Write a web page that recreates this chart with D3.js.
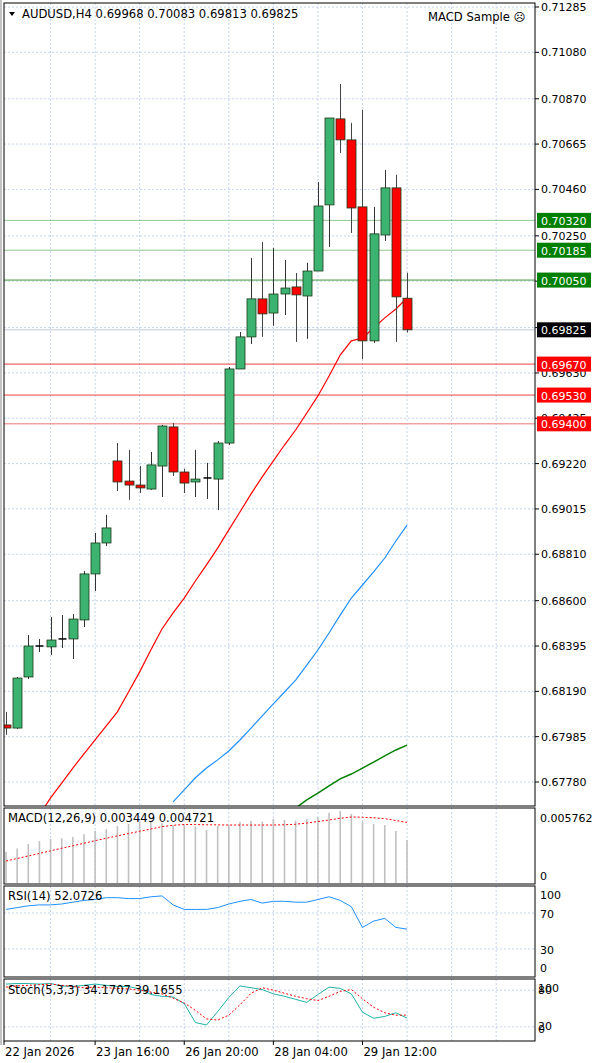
<!DOCTYPE html>
<html><head><meta charset="utf-8">
<script src="https://cdn.jsdelivr.net/npm/d3@7/dist/d3.min.js"></script>
<style>body{margin:0;background:#fff}svg{display:block}text{font-family:"DejaVu Sans",sans-serif;font-size:11px}</style>
</head><body><svg id="c" width="600" height="1063"></svg>
<script>
const opens  =[.68038,.68024,.68255,.68395,.68391,.68427,.68427,.68513,.68721,.68861,.69232,.69141,.69123,.69105,.69209,.69386,.69182,.69137,.69155,.69150,.69313,.69648,.69793,.69965,.69901,.69987,.70019,.69978,.70091,.70390,.70779,.70684,.70381,.69775,.70254,.70467,.69968];
const highs  =[.68097,.68255,.68445,.68427,.68526,.68535,.68540,.68734,.68906,.68988,.69313,.69282,.69209,.69273,.69395,.69404,.69196,.69282,.69223,.69322,.69657,.69815,.70150,.70222,.70195,.70141,.70082,.70128,.70494,.70783,.70937,.70761,.70820,.70381,.70548,.70526,.70083];
const lows   =[.67993,.68020,.68246,.68368,.68354,.68386,.68336,.68481,.68644,.68847,.69096,.69056,.69087,.69101,.69069,.69164,.69087,.69069,.69060,.69010,.69304,.69648,.69761,.69793,.69843,.69892,.69770,.69784,.70091,.70200,.70625,.70263,.69693,.69766,.70227,.69770,.69813];
const closes =[.68024,.68250,.68395,.68395,.68422,.68427,.68517,.68721,.68861,.68929,.69137,.69123,.69110,.69214,.69390,.69182,.69132,.69150,.69155,.69313,.69648,.69793,.69965,.69897,.69987,.70014,.69983,.70091,.70385,.70783,.70684,.70376,.69775,.70259,.70467,.69974,.69825];
const maRed  =[null,null,null,.67631,.67708,.67775,.67843,.67907,.67970,.68034,.68097,.68187,.68278,.68377,.68472,.68545,.68612,.68689,.68762,.68838,.68920,.69001,.69083,.69160,.69232,.69304,.69372,.69449,.69526,.69616,.69711,.69775,.69788,.69833,.69879,.69919,.69969];
const maBlue =[null,null,null,null,null,null,null,null,null,null,null,null,null,null,null,.67690,.67744,.67799,.67843,.67880,.67920,.67970,.68024,.68079,.68133,.68187,.68241,.68309,.68377,.68454,.68535,.68612,.68671,.68730,.68793,.68870,.68942];
const maGreen=[null,null,null,null,null,null,null,null,null,null,null,null,null,null,null,null,null,null,null,null,null,null,null,null,null,null,.67662,.67699,.67730,.67762,.67794,.67816,.67843,.67870,.67898,.67925,.67947];
const macdHist=[.00251,.00277,.00312,.00336,.00352,.00358,.00368,.00390,.00419,.00430,.00456,.00472,.00491,.00491,.00478,.00464,.00464,.00451,.00424,.00456,.00464,.00491,.00496,.00491,.00512,.00504,.00499,.00510,.00526,.00563,.00576,.00552,.00491,.00472,.00464,.00416,.00345];
const macdSig=[.00176,.00196,.00216,.00237,.00257,.00278,.00298,.00318,.00339,.00358,.00377,.00396,.00414,.00432,.00451,.00462,.00468,.00468,.00466,.00465,.00464,.00464,.00464,.00464,.00464,.00466,.00470,.00480,.00492,.00504,.00518,.00528,.00526,.00522,.00515,.00500,.00485];
const rsi=[74,76,78,79,79,80,82,84,85,87,87,86,86,88,89,79,74,74,74,76,80,83,85,81,83,83,82,82,85,88,84,77,54,61,64,54,52.07];
const stochMain=[90,91,91,90,91,87,86,88,90,88,86,86,82,73,70,69,58,27,23,45,68,87,84,81,74,70,65,60,73,85,83,74,44,34,37,43,34.17];
const stochSig=[85,87,88,89,90,88,86,84,85,84,83,82,80,77,74,67,59,47,33,31,39,56,75,84,80,75,70,66,63,70,78,81,66,52,43,39,39.17];
const priceTicks=[0.71285,0.71080,0.70870,0.70665,0.70460,0.70250,0.70045,0.69835,0.69630,0.69425,0.69220,0.69015,0.68810,0.68600,0.68395,0.68190,0.67985,0.67780];
const greenLevels=[0.70320,0.70185,0.70050];
const redLevels=[0.69670,0.69530,0.69400];
const lastPrice=0.69825;
const timeLabels=[[0,"22 Jan 2026"],[8,"23 Jan 16:00"],[16,"26 Jan 20:00"],[24,"28 Jan 04:00"],[32,"29 Jan 12:00"]];

const svg=d3.select("#c");
const L=4,R=535;
const x=d3.scaleLinear().domain([0,48]).range([6,6+48*11.14]);
const y=d3.scaleLinear().domain([0.71285,0.67780]).range([7,782]);
const panels=[[3,806],[808,884],[886,977],[979,1041]];
svg.append("rect").attr("width",600).attr("height",1063).attr("fill","#fff");
svg.append("defs").append("clipPath").attr("id","cm").append("rect").attr("x",L).attr("y",3).attr("width",R-L).attr("height",803);
const idx=d3.range(opens.length);
panels.forEach(([t,b])=>{
  d3.range(4,48,4).forEach(i=>{ if(x(i)<R) svg.append("line").attr("x1",x(i)).attr("x2",x(i)).attr("y1",t).attr("y2",b).attr("stroke","#c4d4ec").attr("stroke-dasharray","2,2");});
});
priceTicks.forEach(p=>{
  svg.append("line").attr("x1",L).attr("x2",R).attr("y1",y(p)).attr("y2",y(p)).attr("stroke","#c4d4ec").attr("stroke-dasharray","2,2");
  svg.append("line").attr("x1",R).attr("x2",R+4).attr("y1",y(p)).attr("y2",y(p)).attr("stroke","#000");
  svg.append("text").attr("x",541).attr("y",y(p)+4).text(p.toFixed(5));
});
const m=svg.append("g").attr("clip-path","url(#cm)");
greenLevels.forEach((p,i)=>m.append("line").attr("x1",L).attr("x2",R).attr("y1",y(p)).attr("y2",y(p)).attr("stroke",i==2?"#3c9a3c":"#8cc88c").attr("stroke-width",1));
redLevels.forEach((p,i)=>m.append("line").attr("x1",L).attr("x2",R).attr("y1",y(p)).attr("y2",y(p)).attr("stroke",i==2?"#f4a0a0":"#f04040").attr("stroke-width",i==2?1.5:1));
m.append("line").attr("x1",L).attr("x2",R).attr("y1",y(lastPrice)).attr("y2",y(lastPrice)).attr("stroke","#c0c8d8");
const ln=arr=>d3.line().defined(d=>arr[d]!=null).x(d=>x(d)).y(d=>y(arr[d]));
m.append("path").attr("d",ln(maRed)(idx)).attr("fill","none").attr("stroke","#ff0000").attr("stroke-width",1.2);
m.append("path").attr("d",ln(maBlue)(idx)).attr("fill","none").attr("stroke","#1e90ff").attr("stroke-width",1.2);
m.append("path").attr("d",ln(maGreen)(idx)).attr("fill","none").attr("stroke","#008000").attr("stroke-width",1.5);
idx.forEach(i=>{
  const up=closes[i]>=opens[i], cx=Math.round(x(i))+0.5;
  m.append("line").attr("x1",cx).attr("x2",cx).attr("y1",y(highs[i])).attr("y2",y(lows[i])).attr("stroke",up?"#333":"#444");
  const t=y(Math.max(opens[i],closes[i])), b=y(Math.min(opens[i],closes[i]));
  if(b-t<1.5){ m.append("line").attr("x1",cx-4).attr("x2",cx+4).attr("y1",t).attr("y2",t).attr("stroke","#000").attr("stroke-width",1.5);}
  else m.append("rect").attr("x",cx-4.5).attr("y",t).attr("width",9).attr("height",b-t).attr("fill",up?"#3cb371":"#ff0000").attr("stroke","#1a3a1a").attr("stroke-width",0.8);
});
function box(p,bg){svg.append("rect").attr("x",537).attr("y",y(p)-7.5).attr("width",54).attr("height",15).attr("fill",bg);
 svg.append("text").attr("x",541).attr("y",y(p)+4.5).attr("fill","#fff").text(p.toFixed(5));}
greenLevels.forEach(p=>box(p,"#008000"));redLevels.forEach(p=>box(p,"#ff0000"));box(lastPrice,"#000");
svg.append("path").attr("d","M9,12 L15,12 L12,16 Z").attr("fill","#000");
svg.append("text").attr("x",22).attr("y",18).style("font-size","11.6px").text("AUDUSD,H4  0.69968 0.70083 0.69813 0.69825");
svg.append("text").attr("x",428).attr("y",21).style("font-size","11.6px").text("MACD Sample ☹");
const ym=d3.scaleLinear().domain([0,0.005762]).range([883,811]);
idx.forEach(i=>svg.append("line").attr("x1",x(i)).attr("x2",x(i)).attr("y1",ym(0)).attr("y2",ym(macdHist[i])).attr("stroke","#c0c0c0").attr("stroke-width",1.6));
svg.append("path").attr("d",d3.line().x(d=>x(d)).y(d=>ym(macdSig[d]))(idx)).attr("fill","none").attr("stroke","#ff0000").attr("stroke-dasharray","2,2");
svg.append("text").attr("x",8).attr("y",822).style("font-size","11.6px").text("MACD(12,26,9) 0.003449 0.004721");
svg.append("text").attr("x",540).attr("y",822).text("0.005762");
svg.append("text").attr("x",540).attr("y",880).text("0");
const yr=d3.scaleLinear().domain([0,100]).range([976,886]);
[70,30].forEach(v=>svg.append("line").attr("x1",L).attr("x2",R).attr("y1",yr(v)).attr("y2",yr(v)).attr("stroke","#c4d4ec").attr("stroke-dasharray","2,2"));
svg.append("path").attr("d",d3.line().x(d=>x(d)).y(d=>yr(rsi[d]))(idx)).attr("fill","none").attr("stroke","#1e90ff");
svg.append("text").attr("x",8).attr("y",900).style("font-size","11.6px").text("RSI(14) 52.0726");
[[100,899],[70,918],[30,954],[0,972]].forEach(([v,yy])=>svg.append("text").attr("x",540).attr("y",yy).text(v));
const ys=d3.scaleLinear().domain([0,100]).range([1039,978]);
[80,20].forEach(v=>svg.append("line").attr("x1",L).attr("x2",R).attr("y1",ys(v)).attr("y2",ys(v)).attr("stroke","#c4d4ec").attr("stroke-dasharray","2,2"));
svg.append("path").attr("d",d3.line().x(d=>x(d)).y(d=>ys(stochMain[d]))(idx)).attr("fill","none").attr("stroke","#20b2aa");
svg.append("path").attr("d",d3.line().x(d=>x(d)).y(d=>ys(stochSig[d]))(idx)).attr("fill","none").attr("stroke","#ff0000").attr("stroke-dasharray","2,2");
svg.append("text").attr("x",8).attr("y",994).style("font-size","11.6px").text("Stoch(5,3,3) 34.1707 39.1655");
[[100,992],[80,994],[20,1030],[0,1033]].forEach(([v,yy])=>svg.append("text").attr("x",538).attr("y",yy).text(v));
panels.forEach(([t,b])=>svg.append("rect").attr("x",L).attr("y",t).attr("width",R-L).attr("height",b-t).attr("fill","none").attr("stroke","#000"));
svg.append("line").attr("x1",1).attr("x2",1).attr("y1",0).attr("y2",1045).attr("stroke","#888");
timeLabels.forEach(([i,s])=>{const xx=i==0?L:x(i);
 svg.append("line").attr("x1",xx).attr("x2",xx).attr("y1",1041).attr("y2",1045).attr("stroke","#000");
 svg.append("text").attr("x",xx+1).attr("y",1056).style("font-size","11.6px").text(s);});
</script></body></html>
